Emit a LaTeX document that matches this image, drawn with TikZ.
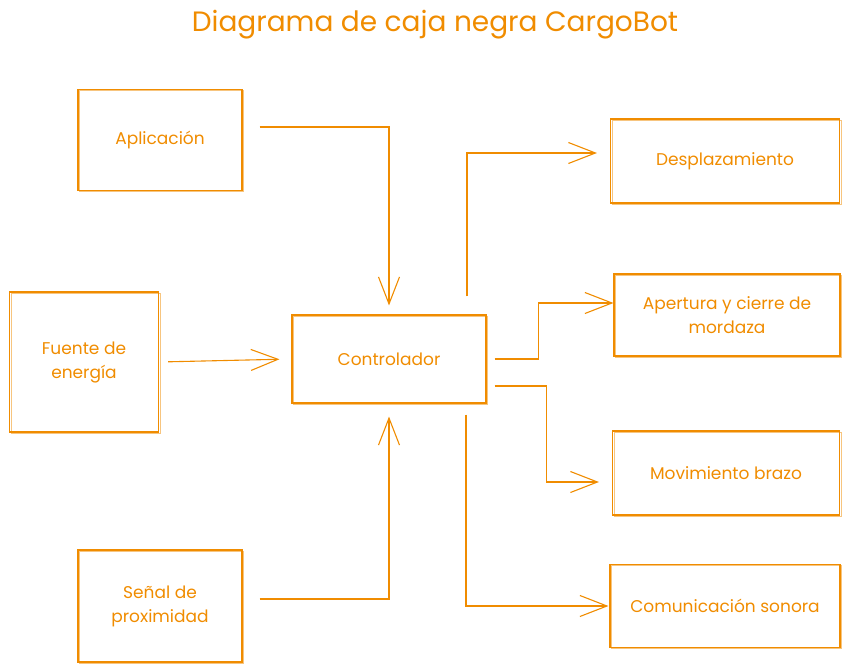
\documentclass[tikz,border=0pt]{standalone}
\usepackage{fontspec}
\setmainfont{Poppins}
\usetikzlibrary{arrows.meta}
\definecolor{cargo}{HTML}{F08C00}
\begin{document}
\begin{tikzpicture}[x=1pt, y=-1pt, color=cargo, line width=1.1pt,
    >={Straight Barb[length=27pt, width=21pt]},
    box/.style = {draw, align=center, font=\fontsize{17}{24}\selectfont,
        preaction={draw, opacity=0.5, transform canvas={xshift=1.6pt, yshift=-1.4pt}}}]
    \useasboundingbox (0,0) rectangle (849,672);

    \node[font=\fontsize{28}{32}\selectfont] (title) at (435,25) {Diagrama de caja negra CargoBot};

    \node[box, minimum width=164pt, minimum height=101pt] (app) at (160,140) {Aplicación};
    \node[box, minimum width=149pt, minimum height=140pt] (fuente) at (84,362) {Fuente de\\energía};
    \node[box, minimum width=164pt, minimum height=112pt] (senal) at (160,606) {Señal de\\proximidad};
    \node[box, minimum width=194pt, minimum height=88pt] (ctrl) at (389,359) {Controlador};

    \node[box, minimum width=229pt, minimum height=84pt] (desp) at (725,161) {Desplazamiento};
    \node[box, minimum width=226pt, minimum height=82pt] (aper) at (727,315) {Apertura y cierre de\\mordaza};
    \node[box, minimum width=227pt, minimum height=84pt] (mov) at (726,473) {Movimiento brazo};
    \node[box, minimum width=230pt, minimum height=83pt] (com) at (725,606) {Comunicación sonora};


    \draw[->, shorten <=17pt, shorten >=9pt] ([yshift=13pt]app.east) -| (ctrl.north);
    \draw[->, shorten <=9pt, shorten >=12pt] (fuente.east) -- (ctrl.west);
    \draw[->, shorten <=17pt, shorten >=13pt] ([yshift=7pt]senal.east) -| (ctrl.south);

    \draw[->, shorten <=18pt, shorten >=13pt] ([xshift=78pt]ctrl.north) |- ([yshift=8pt]desp.west);
    \draw[->, shorten <=8pt] (ctrl.east) -- ++(52,0) |- ([yshift=12pt]aper.west);
    \draw[->, shorten <=8pt, shorten >=13pt] ([yshift=-27pt]ctrl.east) -- ++(60,0) |- ([yshift=-9pt]mov.west);
    \draw[->, shorten <=11pt, shorten >=1pt] ([xshift=77pt]ctrl.south) |- (com.west);

\end{tikzpicture}
\end{document}
